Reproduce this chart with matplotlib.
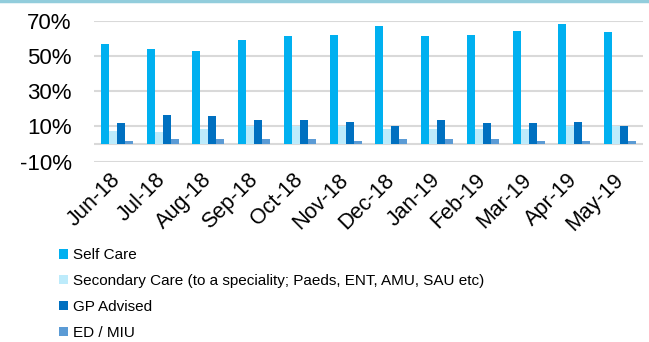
import numpy as np
import matplotlib.pyplot as plt
from matplotlib.lines import Line2D
from matplotlib.ticker import FuncFormatter

plt.rcParams['font.family'] = ['Liberation Sans', 'DejaVu Sans']

months = ["Jun-18", "Jul-18", "Aug-18", "Sep-18", "Oct-18", "Nov-18",
          "Dec-18", "Jan-19", "Feb-19", "Mar-19", "Apr-19", "May-19"]

self_care = [56.7, 53.7, 52.9, 58.8, 61.1, 61.8, 67.0, 61.1, 61.8, 63.9, 68.3, 63.4]
secondary = [7.7, 6.9, 8.4, 10.0, 10.0, 10.0, 8.4, 8.4, 8.4, 8.4, 10.0, 10.0]
gp_advised = [12.1, 16.4, 15.7, 13.6, 13.6, 12.8, 10.5, 13.6, 12.1, 12.1, 12.8, 10.5]
ed_miu = [1.8, 2.6, 2.6, 2.6, 2.6, 1.8, 2.6, 2.6, 2.6, 1.8, 1.8, 1.8]

series = [
    ("Self Care", self_care, "#00B0F0"),
    ("Secondary Care (to a speciality; Paeds, ENT, AMU, SAU etc)", secondary, "#BDEBFB"),
    ("GP Advised", gp_advised, "#0070C0"),
    ("ED / MIU", ed_miu, "#5B9BD5"),
]

fig = plt.figure(figsize=(6.49, 3.42), dpi=100)
ax = fig.add_axes([94 / 649, 1 - 161.7 / 342, 549 / 649, 141 / 342])

x = np.arange(len(months))
w = 0.175
for i, (name, vals, col) in enumerate(series):
    ax.bar(x + (i - 1.5) * w, vals, w, color=col, label=name, zorder=3)

ax.set_xlim(-0.5, len(months) - 0.5)
ax.set_ylim(-10, 70)
ax.set_yticks([-10, 10, 30, 50, 70])
ax.yaxis.set_major_formatter(FuncFormatter(lambda v, p: f"{v:.0f}%"))
ax.grid(axis='y', color='#D9D9D9', linewidth=1.5, zorder=0)
ax.axhline(0, color='#D9D9D9', linewidth=1.5, zorder=2)
for s in ax.spines.values():
    s.set_visible(False)
ax.tick_params(length=0)
ax.tick_params(axis='y', labelsize=16, pad=16, colors='#000000')
ax.set_xticks(x)
ax.set_xticklabels(months, rotation=45, ha='right', va='center',
                   rotation_mode='anchor', fontsize=15.5)
ax.tick_params(axis='x', pad=11)

fig.legend(loc='upper left', bbox_to_anchor=(53 / 649, 1 - 242 / 342),
           frameon=False, fontsize=11, handlelength=0.6, handleheight=0.6,
           handletextpad=0.3, labelspacing=0.78, borderaxespad=0)

fig.add_artist(Line2D([0, 1], [0.997, 0.997], color='#92CDDC', linewidth=2.5,
                      transform=fig.transFigure))

fig.savefig("out.png", dpi=100)
